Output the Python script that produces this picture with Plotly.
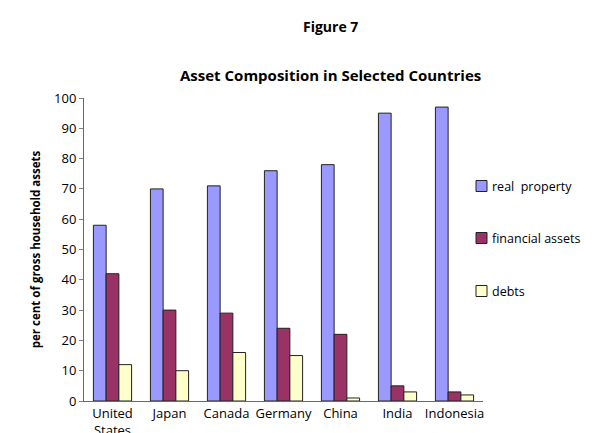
import plotly.graph_objects as go

# ---------------------------------------------------------------- data
countries = ["United<br>States", "Japan", "Canada", "Germany", "China", "India", "Indonesia"]
real_property = [58, 70, 71, 76, 78, 95, 97]
financial_assets = [42, 30, 29, 24, 22, 5, 3]
debts = [12, 10, 16, 15, 1, 3, 2]

y_ticks = [0, 10, 20, 30, 40, 50, 60, 70, 80, 90, 100]

FONT = "Open Sans"
AXIS_BLUE = "#3366ff"

series = [
    ("real  property", real_property, "#9999ff"),
    ("financial assets", financial_assets, "#993366"),
    ("debts", debts, "#ffffcc"),
]

# page has an 8px body margin, so the figure is 8px smaller and shifted
W, H = 601, 425
OFF = 8
# plot area wanted on the page: x 84..483, y 98..401
L, R, T, B = 84, 483, 98, 401
plot_w = R - L
plot_h = B - T

def px(x):  # page pixel x -> paper
    return (x - L) / plot_w

def py(y):  # page pixel y -> paper
    return (B - y) / plot_h

fig = go.Figure()
for name, vals, col in series:
    fig.add_trace(go.Bar(
        x=countries, y=vals, name=name,
        marker=dict(color=col, line=dict(color="#222222", width=1)),
    ))

# ---------------------------------------------------------------- legend (drawn by hand, Excel style)
legend_rows = [186, 238, 291]
shapes, notes = [], []
for (name, _, col), yc in zip(series, legend_rows):
    shapes.append(dict(type="rect", xref="paper", yref="paper",
                       x0=px(476), x1=px(487), y0=py(yc + 5.5), y1=py(yc - 5.5),
                       fillcolor=col, line=dict(color="#222222", width=1)))
    notes.append(dict(text=name, x=px(490), y=py(yc), xref="paper", yref="paper",
                      xanchor="left", yanchor="middle", showarrow=False,
                      font=dict(size=12.5)))

notes += [
    dict(text="<b>Figure 7</b>", x=px(330), y=py(27),
         xref="paper", yref="paper", xanchor="center", yanchor="middle",
         showarrow=False, font=dict(size=14)),
    dict(text="<b>Asset Composition in Selected Countries</b>",
         x=px(330), y=py(75), xref="paper", yref="paper",
         xanchor="center", yanchor="middle",
         showarrow=False, font=dict(size=15)),
]

fig.update_layout(
    width=W, height=H,
    paper_bgcolor="white", plot_bgcolor="white",
    font=dict(family=FONT, size=13, color="black"),
    margin=dict(l=L - OFF, r=W - (R - OFF), t=T - OFF, b=H - (B - OFF), autoexpand=False),
    barmode="group", bargap=0.33, bargroupgap=0,
    showlegend=False,
    shapes=shapes,
    annotations=notes,
)

fig.update_xaxes(showline=True, linecolor=AXIS_BLUE, linewidth=1, automargin=False,
                 ticks="", tickfont=dict(size=13), showgrid=False)
fig.update_yaxes(range=[0, 100], tickvals=y_ticks, showline=True, automargin=False,
                 linecolor=AXIS_BLUE, linewidth=1, ticks="outside",
                 ticklen=4, tickcolor="#808080", showgrid=False,
                 zeroline=False, tickfont=dict(size=13),
                 title=dict(text="<b>per cent of gross household assets</b>",
                            font=dict(size=11.5), standoff=11))

fig.write_html("out.html")
